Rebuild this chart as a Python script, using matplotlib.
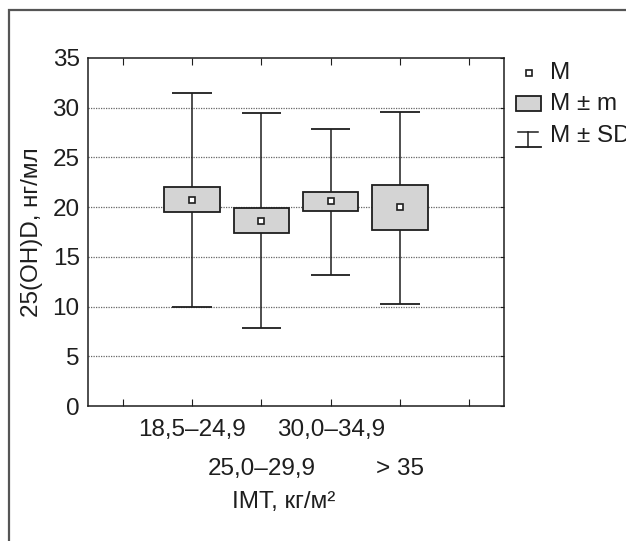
import matplotlib
matplotlib.use("Agg")
import matplotlib.pyplot as plt
from matplotlib.patches import Rectangle
from matplotlib.lines import Line2D

plt.rcParams['font.family'] = ['Liberation Sans', 'DejaVu Sans']

# IMT groups (kg/m2) and 25(OH)D values, ng/ml
groups = ['18,5\u201324,9', '25,0\u201329,9', '30,0\u201334,9', '> 35']
mean = [20.7, 18.6, 20.6, 20.0]
m_low = [19.5, 17.4, 19.6, 17.7]
m_high = [22.0, 19.9, 21.5, 22.2]
sd_low = [10.0, 7.8, 13.2, 10.3]
sd_high = [31.5, 29.5, 27.9, 29.6]

fs = 17.5
dark = '#1e1e1e'

fig = plt.figure(figsize=(6.26, 5.41), dpi=100)
ax = fig.add_axes([0.1406, 0.2495, 0.6644, 0.6433])

# outer frame
fig.patches.append(Rectangle((0.0144, -0.1), 1.2, 1.0815, transform=fig.transFigure,
                             fill=False, edgecolor='#555555', linewidth=1.6))

pos = list(range(1, len(groups) + 1))
box_w = 0.8
cap_w = 0.57
for x, mu, lo, hi, slo, shi in zip(pos, mean, m_low, m_high, sd_low, sd_high):
    ax.vlines(x, slo, lo, color=dark, linewidth=1.1, zorder=3)
    ax.vlines(x, hi, shi, color=dark, linewidth=1.1, zorder=3)
    ax.hlines([slo, shi], x - cap_w / 2, x + cap_w / 2, color=dark, linewidth=1.3, zorder=3)
    ax.add_patch(Rectangle((x - box_w / 2, lo), box_w, hi - lo, facecolor='#d4d4d4',
                           edgecolor=dark, linewidth=1.3, zorder=4))
    ax.plot(x, mu, marker='s', markersize=5, markerfacecolor='white',
            markeredgecolor=dark, markeredgewidth=1.2, zorder=5)

ax.set_xlim(-0.5, 5.5)
ax.set_ylim(0, 35)
ax.set_yticks(range(0, 36, 5))
ax.set_xticks(range(0, 6))
ax.set_xticklabels([])
ax.tick_params(axis='y', which='both', left=False, right=True, direction='in',
               length=3, labelsize=fs, pad=6, colors=dark)
ax.tick_params(axis='x', which='both', top=True, bottom=True, direction='in',
               length=5, colors=dark)
for y in range(5, 35, 5):
    ax.axhline(y, color='#666666', linestyle=(0, (1, 1)), linewidth=0.9, zorder=1)
for s in ax.spines.values():
    s.set_color(dark)
    s.set_linewidth(1.1)

# staggered category labels
for i, (x, name) in enumerate(zip(pos, groups)):
    off = -0.07 if i % 2 == 0 else -0.18
    ax.text(x, off, name, transform=ax.get_xaxis_transform(), ha='center',
            va='center', fontsize=fs, color=dark)

ax.text(0.47, -0.275, 'IMT, кг/м\u00b2', transform=ax.transAxes, ha='center',
        va='center', fontsize=fs, color=dark)
ax.set_ylabel('25(OH)D, нг/мл', fontsize=fs, color=dark, labelpad=7)

# legend drawn by hand
tr = ax.transAxes
ax.add_line(Line2D([1.06], [0.957], marker='s', markersize=5, markerfacecolor='white',
                   markeredgecolor=dark, markeredgewidth=1.2, transform=tr, clip_on=False))
ax.add_patch(Rectangle((1.029, 0.847), 0.06, 0.043, transform=tr, clip_on=False,
                       facecolor='#d4d4d4', edgecolor=dark, linewidth=1.3))
ax.add_line(Line2D([1.035, 1.083], [0.787, 0.787], color=dark, linewidth=1.1,
                   transform=tr, clip_on=False))
ax.add_line(Line2D([1.029, 1.089], [0.744, 0.744], color=dark, linewidth=1.3,
                   transform=tr, clip_on=False))
ax.add_line(Line2D([1.059, 1.059], [0.744, 0.787], color=dark, linewidth=1.1,
                   transform=tr, clip_on=False))
for y, lab in zip([0.957, 0.868, 0.776], ['M', 'M \u00b1 m', 'M \u00b1 SD']):
    ax.text(1.11, y, lab, transform=tr, ha='left', va='center', fontsize=fs,
            color=dark, clip_on=False)

fig.savefig('out.png', dpi=100)
